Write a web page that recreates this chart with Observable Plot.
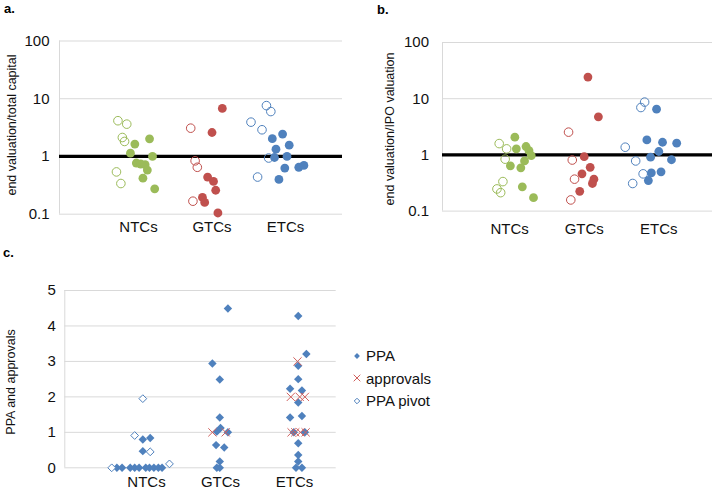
<!DOCTYPE html>
<html><head><meta charset="utf-8">
<script src="https://cdn.jsdelivr.net/npm/d3@7"></script>
<script src="https://cdn.jsdelivr.net/npm/@observablehq/plot@0.6"></script>
<style>
body{margin:0;background:#fff;font-family:"Liberation Sans",Arial,sans-serif;}
#fig{position:relative;width:718px;height:491px;overflow:hidden;background:#fff;}
.plab{position:absolute;font-weight:bold;font-size:13px;line-height:1;color:#000;}
.ytitle{position:absolute;font-size:12.5px;line-height:1;white-space:nowrap;transform:translate(-50%,-50%) rotate(-90deg);color:#111;}
.legend{position:absolute;font-size:15px;color:#111;}
.legend .row{display:flex;align-items:center;height:22.5px;}
.legend svg{margin-right:4px;}
</style></head>
<body><div id="fig"></div>
<script>
const categories = ["NTCs", "GTCs", "ETCs"];
const groupColors = ["#9BBB59", "#C0504D", "#4F81BD"];
const logTicks = [0.1, 1, 10, 100];
const linTicks = [0, 1, 2, 3, 4, 5];
const titles = ["end valuation/total capital", "end valuation/IPO valuation", "PPA and approvals"];
const legendLabels = ["PPA", "approvals", "PPA pivot"];

// ---- panel a: end valuation / total capital ----
const aCat = [
  "NTCs","NTCs","NTCs","NTCs","NTCs","NTCs",
  "NTCs","NTCs","NTCs","NTCs","NTCs","NTCs","NTCs","NTCs","NTCs","NTCs",
  "GTCs","GTCs","GTCs","GTCs",
  "GTCs","GTCs","GTCs","GTCs","GTCs","GTCs","GTCs","GTCs",
  "ETCs","ETCs","ETCs","ETCs","ETCs","ETCs",
  "ETCs","ETCs","ETCs","ETCs","ETCs","ETCs","ETCs","ETCs","ETCs","ETCs"];
const aPivot = [
  1,1,1,1,1,1, 0,0,0,0,0,0,0,0,0,0,
  1,1,1,1, 0,0,0,0,0,0,0,0,
  1,1,1,1,1,1, 0,0,0,0,0,0,0,0,0,0];
const aVal = [
  4.16,3.63,2.13,1.82,0.54,0.34,
  2.02,1.64,1.14,1.0,0.77,0.74,0.72,0.58,0.42,0.275,
  3.09,0.84,0.65,0.168,
  6.8,2.6,0.44,0.37,0.26,0.195,0.16,0.105,
  7.6,6.0,3.93,2.9,0.94,0.44,
  2.44,2.03,1.57,1.34,0.96,1.0,0.63,0.65,0.70,0.40];
const aJit = [
  -0.28,-0.16,-0.22,-0.19,-0.30,-0.24,
  0.15,-0.05,-0.11,0.19,-0.03,0.03,0.09,0.12,0.06,0.22,
  -0.29,-0.23,-0.20,-0.26,
  0.14,0.0,-0.06,0.02,0.05,-0.13,-0.10,0.08,
  -0.26,-0.20,-0.47,-0.32,-0.23,-0.38,
  -0.04,-0.18,0.05,-0.13,-0.15,0.02,-0.01,0.18,0.25,-0.09];

// ---- panel b: end valuation / IPO valuation ----
const bCat = aCat;
const bPivot = aPivot;
const bVal = [
  1.59,1.28,0.84,0.335,0.248,0.213,
  2.07,1.28,1.41,1.19,0.97,0.78,0.64,0.59,0.27,0.173,
  2.54,0.81,0.37,0.158,
  24.3,4.76,0.93,0.60,0.46,0.37,0.31,0.225,
  8.7,6.97,1.37,0.78,0.46,0.31,
  6.5,1.85,1.68,1.62,1.15,0.91,0.82,0.50,0.48,0.35];
const bJit = [
  -0.14,-0.04,-0.06,-0.09,-0.17,-0.12,
  0.07,0.09,0.22,0.26,0.29,0.20,0.01,0.15,0.17,0.32,
  -0.21,-0.16,-0.13,-0.18,
  0.05,0.19,0.0,0.08,-0.03,0.13,0.11,-0.06,
  -0.19,-0.24,-0.45,-0.31,-0.21,-0.35,
  -0.03,-0.16,0.05,0.24,0.0,-0.11,0.17,0.03,-0.10,-0.14];

// ---- panel c: PPA and approvals ----
const ppaCat = [
  "NTCs","NTCs","NTCs","NTCs","NTCs","NTCs","NTCs","NTCs","NTCs","NTCs","NTCs","NTCs","NTCs",
  "GTCs","GTCs","GTCs","GTCs","GTCs","GTCs","GTCs","GTCs","GTCs","GTCs","GTCs","GTCs",
  "ETCs","ETCs","ETCs","ETCs","ETCs","ETCs","ETCs","ETCs","ETCs","ETCs","ETCs","ETCs","ETCs","ETCs","ETCs","ETCs"];
const ppaVal = [
  0,0,0,0,0,0,0,0,0,0,0.80,0.84,0.47,
  4.49,2.94,2.49,1.42,1.12,1.02,1.0,0.64,0.57,0.18,0,0,
  4.28,3.21,2.88,2.50,2.23,2.18,1.84,1.42,1.46,1.0,1.0,0.69,0.36,0.18,0,0];
const ppaJit = [
  -0.40,-0.33,-0.22,-0.16,-0.10,-0.01,0.04,0.10,0.16,0.21,-0.05,0.05,-0.05,
  0.10,-0.11,-0.01,-0.01,0.0,-0.05,0.10,-0.06,0.05,-0.01,-0.05,-0.01,
  0.05,0.16,0.05,0.05,-0.06,0.10,0.05,-0.06,0.10,-0.01,0.14,0.05,0.05,0.05,0.02,0.10];
const apprCat = ["GTCs","GTCs","ETCs","ETCs","ETCs","ETCs","ETCs","ETCs","ETCs","ETCs"];
const apprVal = [1,1,3,2,2,2,1,1,1,1];
const apprJit = [-0.11,0.07,0.04,-0.05,0.07,0.14,-0.04,0.01,0.08,0.15];
const pivotCat = ["NTCs","NTCs","NTCs","NTCs","NTCs"];
const pivotVal = [0,0.11,1.95,0.91,0.45];
const pivotJit = [-0.47,0.31,-0.05,-0.16,0.05];

// ---------- build ----------
const rows = (cats, vals, jits, piv) => cats.map((c, i) => ({
  cat: c, pos: categories.indexOf(c) + 1 + jits[i], value: vals[i], pivot: piv ? !!piv[i] : false
}));
const FONT = '"Liberation Sans", Arial, sans-serif';
const fig = document.getElementById("fig");

function place(el, left, top) {
  el.style.position = "absolute";
  el.style.left = left + "px";
  el.style.top = top + "px";
  fig.appendChild(el);
}

function logPanel(data, o) {
  return Plot.plot({
    width: o.width, height: 240,
    marginLeft: o.ml, marginRight: o.mr, marginTop: o.mt, marginBottom: o.mb,
    style: {fontFamily: FONT, fontSize: "15px", color: "#111", background: "transparent", overflow: "visible"},
    x: {domain: o.xd, ticks: [1, 2, 3], tickFormat: d => categories[d - 1], tickSize: 0, tickPadding: o.xpad, label: null},
    y: {type: "log", domain: [0.1, 100], ticks: logTicks, tickFormat: d => String(d), tickSize: 0, tickPadding: o.ypad, label: null},
    color: {domain: categories, range: groupColors},
    marks: [
      Plot.ruleY(logTicks, {stroke: "#d9d9d9", strokeWidth: 1}),
      Plot.ruleX([o.xd[0]], {stroke: "#d9d9d9", strokeWidth: 1}),
      Plot.ruleY([1], {stroke: "#000", strokeWidth: 3.2}),
      Plot.dot(data.filter(d => d.pivot), {x: "pos", y: "value", r: 4.3, stroke: "cat", fill: "none", strokeWidth: 1}),
      Plot.dot(data.filter(d => !d.pivot), {x: "pos", y: "value", r: 4.4, fill: "cat", stroke: "none"})
    ]
  });
}

const svgA = logPanel(rows(aCat, aVal, aJit, aPivot), {width: 359, ml: 59, mr: 17, mt: 40.5, mb: 26.3, xd: [-0.075, 3.775], xpad: 7.3, ypad: 10});
place(svgA, 0, 0);
const svgB = logPanel(rows(bCat, bVal, bJit, bPivot), {width: 358, ml: 82, mr: 6, mt: 42, mb: 29.4, xd: [0.10, 3.72], xpad: 11.8, ypad: 13.5});
place(svgB, 360, 0);

const cXd = [-0.104, 3.563];
const svgC = Plot.plot({
  width: 360, height: 251,
  marginLeft: 64.3, marginRight: 24.3, marginTop: 50, marginBottom: 23.7,
  style: {fontFamily: FONT, fontSize: "15px", color: "#111", background: "transparent", overflow: "visible"},
  x: {domain: cXd, ticks: [1, 2, 3], tickFormat: d => categories[d - 1], tickSize: 0, tickPadding: 8.7, label: null},
  y: {domain: [0, 5], ticks: linTicks, tickFormat: d => String(d), tickSize: 0, tickPadding: 9, label: null},
  marks: [
    Plot.ruleY(linTicks, {stroke: "#d9d9d9", strokeWidth: 1}),
    Plot.ruleX([cXd[0]], {stroke: "#d9d9d9", strokeWidth: 1}),
    Plot.dot(rows(ppaCat, ppaVal, ppaJit), {x: "pos", y: "value", symbol: "diamond2", r: 3.8, fill: "#4F81BD", stroke: "none"}),
    Plot.dot(rows(apprCat, apprVal, apprJit), {x: "pos", y: "value", symbol: "times", r: 3.8, stroke: "#D0605D", strokeWidth: 1, fill: "none"}),
    Plot.dot(rows(pivotCat, pivotVal, pivotJit), {x: "pos", y: "value", symbol: "diamond2", r: 3.5, fill: "white", stroke: "#4F81BD", strokeWidth: 1})
  ]
});
place(svgC, 0, 240);

// panel letters
[["a.", 4, 2.3], ["b.", 377, 3], ["c.", 3, 245.7]].forEach(([t, x, y]) => {
  const d = document.createElement("div");
  d.className = "plab"; d.textContent = t;
  d.style.left = x + "px"; d.style.top = y + "px";
  fig.appendChild(d);
});

// y-axis titles
[[titles[0], 12.3, 125], [titles[1], 390, 128.5], [titles[2], 10.8, 381.5]].forEach(([t, x, y]) => {
  const d = document.createElement("div");
  d.className = "ytitle"; d.textContent = t;
  d.style.left = x + "px"; d.style.top = y + "px";
  fig.appendChild(d);
});

// legend
const legend = document.createElement("div");
legend.className = "legend";
legend.style.left = "352px"; legend.style.top = "344.7px";
const swatches = [
  {type: d3.symbolDiamond2, size: Math.PI * 2.6 * 2.6, fill: "#4F81BD", stroke: "none", sw: 0},
  {type: d3.symbolTimes, size: Math.PI * 3.1 * 3.1, fill: "none", stroke: "#D0605D", sw: 1},
  {type: d3.symbolDiamond2, size: Math.PI * 2.5 * 2.5, fill: "white", stroke: "#4F81BD", sw: 1}
];
legendLabels.forEach((lab, i) => {
  const row = document.createElement("div");
  row.className = "row";
  const s = d3.create("svg").attr("width", 10).attr("height", 10).attr("viewBox", "-5 -5 10 10");
  s.append("path").attr("d", d3.symbol(swatches[i].type, swatches[i].size)())
    .attr("fill", swatches[i].fill).attr("stroke", swatches[i].stroke).attr("stroke-width", swatches[i].sw);
  row.appendChild(s.node());
  const sp = document.createElement("span");
  sp.textContent = lab;
  row.appendChild(sp);
  legend.appendChild(row);
});
fig.appendChild(legend);
</script>
</body></html>
